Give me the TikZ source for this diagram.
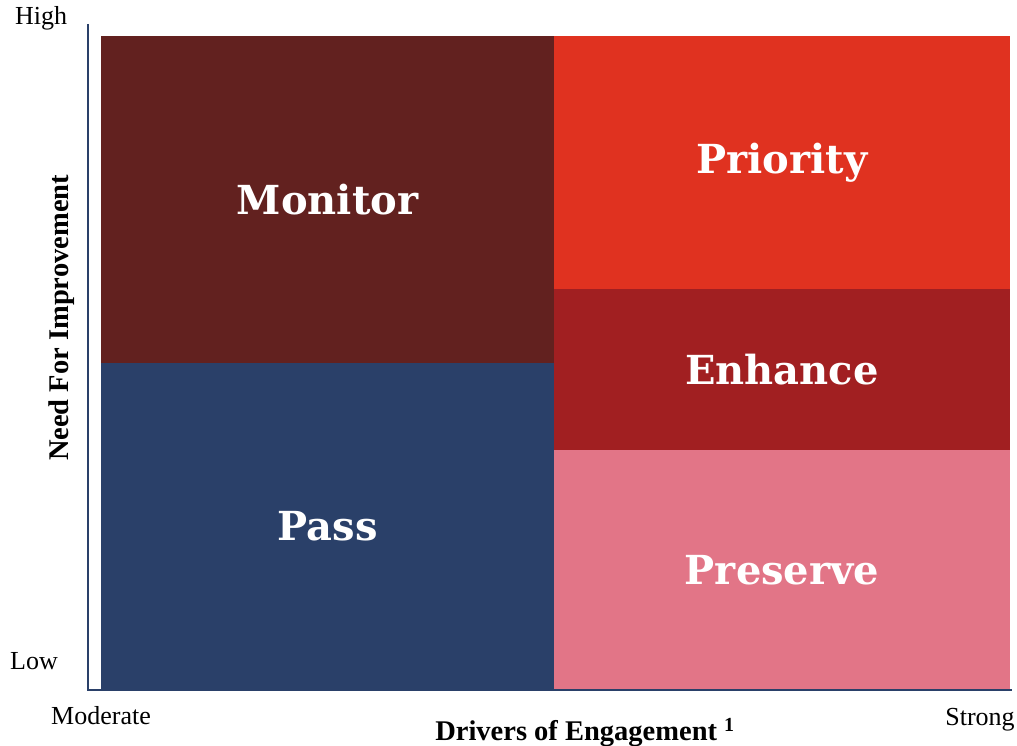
\documentclass[tikz,border=0pt]{standalone}
\usepackage{fontspec}
\setmainfont{Liberation Serif}
\newfontfamily\quadfont{DejaVu Serif}
\usetikzlibrary{positioning}
\definecolor{monitorbrown}{RGB}{98, 33, 31}
\definecolor{passblue}{RGB}{42, 64, 105}
\definecolor{priorityred}{RGB}{224, 50, 32}
\definecolor{enhancered}{RGB}{161, 31, 33}
\definecolor{preservepink}{RGB}{226, 117, 135}
\definecolor{axisblue}{RGB}{42, 64, 105}
\tikzset{
  quad/.style={inner sep=0pt, outer sep=0pt, text=white, font=\quadfont\bfseries\fontsize{40}{48}\selectfont},
  axislabel/.style={inner sep=0pt, font=\fontsize{26}{30}\selectfont},
  axistitle/.style={inner sep=0pt, font=\bfseries\fontsize{28.5}{33}\selectfont}
}

\begin{document}
\begin{tikzpicture}[x=1pt, y=-1pt]
  \useasboundingbox (0,0) rectangle (1017,746);
  % quadrants
  \node[quad, fill=monitorbrown, minimum width=453pt, minimum height=327pt, anchor=north west] (monitor) at (101,36) {Monitor};
  \node[quad, fill=passblue, minimum width=453pt, minimum height=327pt, below=0pt of monitor] (pass) {Pass};
  \node[quad, fill=priorityred, minimum width=456pt, minimum height=253pt, below right=0pt and 0pt of monitor.north east] (priority) {Priority};
  \node[quad, fill=enhancered, minimum width=456pt, minimum height=161pt, below=0pt of priority] (enhance) {Enhance};
  \node[quad, fill=preservepink, minimum width=456pt, minimum height=240pt, below=0pt of enhance] (preserve) {Preserve};
  % axes
  \coordinate (ytop) at (88,24);
  \coordinate (origin) at (88,690);
  \coordinate (xend) at (1012,690);
  \draw[axisblue, line width=1.8pt] (ytop) -- (origin) -- (xend);
  % labels
  \node[axislabel] (high) at (41,18) {High};
  \node[axislabel] (low) at (34,661) {Low};
  \node[axislabel] (moderate) at (101,716) {Moderate};
  \node[axislabel] (strong) at (980,720) {Strong};
  \node[axistitle] (xtitle) at (585,733) {Drivers of Engagement \textsuperscript{1}};
  \node[axistitle, rotate=90] (ytitle) at (62,318) {Need For Improvement};
\end{tikzpicture}
\end{document}
